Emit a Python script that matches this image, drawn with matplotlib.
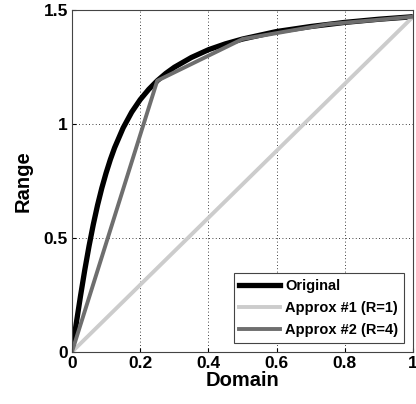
import matplotlib.pyplot as plt

plt.rcParams['font.family'] = ['Liberation Sans', 'DejaVu Sans']
plt.rcParams['font.weight'] = 'bold'

# Original curve
orig_x = [0, 0.0125, 0.025, 0.0375, 0.05, 0.0625, 0.075, 0.0875, 0.1, 0.1125,
          0.125, 0.15, 0.175, 0.2, 0.225, 0.25, 0.275, 0.3, 0.35, 0.4, 0.45,
          0.5, 0.6, 0.7, 0.8, 0.9, 1.0]
orig_y = [0, 0.124, 0.245, 0.359, 0.464, 0.559, 0.644, 0.719, 0.785, 0.844,
          0.896, 0.983, 1.052, 1.107, 1.152, 1.190, 1.222, 1.249, 1.292, 1.326,
          1.352, 1.373, 1.406, 1.428, 1.446, 1.460, 1.471]

# Approx #1 (R=1): single segment
a1_x = [0, 1.0]
a1_y = [0, 1.471]

# Approx #2 (R=4): four segments
a2_x = [0, 0.25, 0.5, 0.75, 1.0]
a2_y = [0, 1.190, 1.373, 1.438, 1.471]

fig = plt.figure(figsize=(4.16, 4.04), dpi=100)
ax = fig.add_axes([0.173, 0.129, 0.820, 0.846])

ax.plot(orig_x, orig_y, color='black', lw=3.8, label='Original',
        solid_joinstyle='round')
ax.plot(a1_x, a1_y, color='#cccccc', lw=2.8, label='Approx #1 (R=1)')
ax.plot(a2_x, a2_y, color='#6e6e6e', lw=2.8, label='Approx #2 (R=4)')

ax.set_xlim(0, 1)
ax.set_ylim(0, 1.5)
ax.set_xticks([0, 0.2, 0.4, 0.6, 0.8, 1])
ax.set_xticklabels(['0', '0.2', '0.4', '0.6', '0.8', '1'])
ax.set_yticks([0, 0.5, 1, 1.5])
ax.set_yticklabels(['0', '0.5', '1', '1.5'])
ax.tick_params(labelsize=12.5, direction='in', length=3, pad=3)
ax.grid(True, color='black', linestyle=(0, (1, 3)), linewidth=0.6)
for s in ax.spines.values():
    s.set_color('#444444')

ax.set_xlabel('Domain', fontsize=14.5, fontweight='bold', labelpad=0)
ax.set_ylabel('Range', fontsize=14.5, fontweight='bold', labelpad=8)

leg = ax.legend(loc='lower right', fontsize=10.5, fancybox=False, framealpha=1,
                edgecolor='#444444', handlelength=2.8, handletextpad=0.35,
                borderaxespad=0.6, labelspacing=0.55, borderpad=0.4)
leg.get_frame().set_linewidth(0.8)

fig.savefig('out.png', dpi=100)
